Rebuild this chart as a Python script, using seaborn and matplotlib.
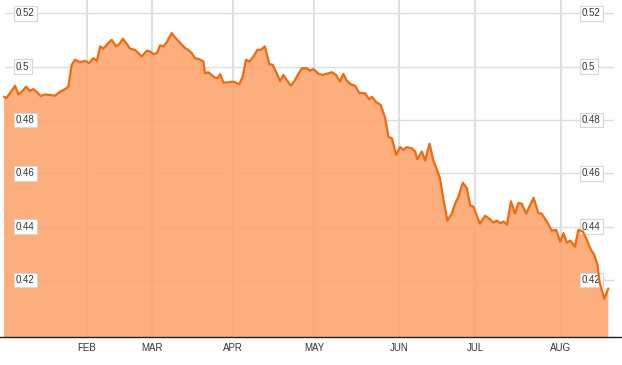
import matplotlib
matplotlib.use("Agg")
import matplotlib.pyplot as plt
import matplotlib.transforms as mtrans
import pandas as pd
import seaborn as sns

# trading session index (x) and price (y)
session = [0, 0.7, 3.0, 3.9, 4.8, 6.0, 7.0, 7.9, 8.8, 9.9, 11.1, 12.4, 13.8, 15.1, 16.5, 17.4,
           18.3, 19.2, 20.5, 21.9, 23.1, 24.1, 25.1, 26.0,
           26.8, 28.2, 29.1, 30.3, 31.2, 32.1, 33.2, 34.1, 35.4, 36.3, 37.2, 38.6, 39.5, 40.4,
           41.3, 42.2, 43.1, 44.2, 45.3, 46.2, 47.6, 48.9, 49.8, 50.7, 51.6, 52.8,
           53.9, 54.3, 55.2, 56.1, 57.0, 57.7, 58.4, 59.3, 60.6, 62.0, 62.9, 63.6, 64.5, 65.4,
           66.3, 67.4, 68.5, 69.4, 70.5, 71.7, 72.6, 73.5, 74.6, 75.5, 76.4, 77.5, 78.4, 79.5, 80.5,
           81.8, 82.7, 83.6, 85.0, 86.1, 87.2, 88.6, 89.7, 90.8, 91.7, 92.6, 93.7, 94.9, 96.0,
           97.6, 98.7, 99.4, 100.5, 101.8, 103.0, 103.9, 104.8, 106.0, 107.0, 107.9,
           108.8, 110.2, 111.1, 111.7, 112.9, 113.8, 115.0, 116.0, 117.0, 117.8, 118.7, 119.8,
           121.0, 121.9, 122.8, 124.0, 125.1, 126.0, 126.8, 128.6, 130.0, 131.2, 132.2, 133.2, 134.1,
           135.0, 135.9, 137.0, 138.1, 139.0, 139.9, 141.1, 143.1, 144.4, 145.3, 146.7, 148.0,
           149.2, 150.3, 151.2, 152.1, 153.0, 154.3, 155.2, 156.4, 157.3, 158.4, 159.5, 160.4,
           160.9, 162.2, 163.3]

price = [0.4887, 0.4883, 0.4928, 0.4896, 0.4906, 0.4925, 0.4909, 0.4916, 0.4906, 0.4890, 0.4896,
         0.4894, 0.4891, 0.4906, 0.4916, 0.4925, 0.5007, 0.5026, 0.5017, 0.5022, 0.5013, 0.5032,
         0.5022, 0.5076,
         0.5067, 0.5089, 0.5101, 0.5076, 0.5085, 0.5105, 0.5085, 0.5067, 0.5063, 0.5051, 0.5038,
         0.5060, 0.5057, 0.5047, 0.5051, 0.5080, 0.5076, 0.5097, 0.5126, 0.5110, 0.5089, 0.5070,
         0.5063, 0.5051, 0.5032, 0.5028,
         0.5019, 0.4975, 0.4979, 0.4969, 0.4959, 0.4957, 0.4972, 0.4940, 0.4941, 0.4944, 0.4938,
         0.4934, 0.4963, 0.5026, 0.5019, 0.5038, 0.5063, 0.5063, 0.5076, 0.5009, 0.5007, 0.4981,
         0.4946, 0.4969, 0.4950, 0.4929, 0.4944, 0.4972, 0.4994,
         0.4994, 0.4985, 0.4991, 0.4973, 0.4969, 0.4973, 0.4979, 0.4969, 0.4944, 0.4973, 0.4948,
         0.4934, 0.4928, 0.4902, 0.4900, 0.4877, 0.4887, 0.4868, 0.4856, 0.4808, 0.4736, 0.4732,
         0.4669, 0.4699, 0.4688,
         0.4698, 0.4694, 0.4682, 0.4653, 0.4682, 0.4648, 0.4711, 0.4650, 0.4613, 0.4581, 0.4506,
         0.4423, 0.4449, 0.4486, 0.4512, 0.4565, 0.4543, 0.4479, 0.4476, 0.4411, 0.4441, 0.4429,
         0.4416, 0.4423, 0.4413,
         0.4419, 0.4407, 0.4495, 0.4449, 0.4489, 0.4486, 0.4449, 0.4508, 0.4451, 0.4449, 0.4419,
         0.4385, 0.4388, 0.4344, 0.4376, 0.4340, 0.4348, 0.4325, 0.4388, 0.4382, 0.4357, 0.4319,
         0.4294, 0.4256, 0.4193, 0.4130, 0.4168]

months = ["FEB", "MAR", "APR", "MAY", "JUN", "JUL", "AUG"]
month_pos = [22.4, 40.0, 61.8, 83.8, 106.8, 127.3, 150.5]

yticks = [0.42, 0.44, 0.46, 0.48, 0.50, 0.52]
ytick_labels = ["0.42", "0.44", "0.46", "0.48", "0.5", "0.52"]

sns.set_style("white")
plt.rcParams["font.family"] = ["Liberation Sans", "DejaVu Sans"]

W, H = 622, 365
fig = plt.figure(figsize=(W / 100, H / 100), dpi=100)
ax = fig.add_axes([0, 28 / H, 1, 337 / H])

df = pd.DataFrame({"session": session, "price": price})

ax.set_xlim(-1.08, 167.0)
ax.set_ylim(0.39863, 0.52499)

for v in yticks:
    ax.axhline(v, xmin=5 / W, xmax=613 / W, color="#dddddd", lw=1, zorder=1)
for p in month_pos:
    ax.axvline(p, color="#e0e0e0", lw=1.5, zorder=1)

ax.fill_between(df["session"], df["price"], 0.3, color=(252 / 255, 165 / 255, 111 / 255),
                alpha=0.9, lw=0, zorder=2)
sns.lineplot(data=df, x="session", y="price", ax=ax, color="#F0690F", lw=1.6, zorder=5)

trans = mtrans.blended_transform_factory(ax.transAxes, ax.transData)
box = dict(boxstyle="square,pad=0.25", fc="white", ec="#d6d6d6", lw=0.8)
for v, lab in zip(yticks, ytick_labels):
    ax.text(16 / W, v, lab, transform=trans, ha="left", va="center", fontsize=7,
            color="#333333", bbox=box, zorder=4)
    ax.text(582 / W, v, lab, transform=trans, ha="left", va="center", fontsize=7,
            color="#333333", bbox=box, zorder=4)

ax.set_xticks(month_pos, months)
ax.set_yticks([])
ax.tick_params(axis="x", length=0, pad=4, labelsize=7, labelcolor="#333333")
ax.set_xlabel("")
ax.set_ylabel("")
for s in ["top", "left", "right"]:
    ax.spines[s].set_visible(False)
ax.spines["bottom"].set_color("#222222")
ax.spines["bottom"].set_linewidth(1)

fig.savefig("out.png", dpi=100)
